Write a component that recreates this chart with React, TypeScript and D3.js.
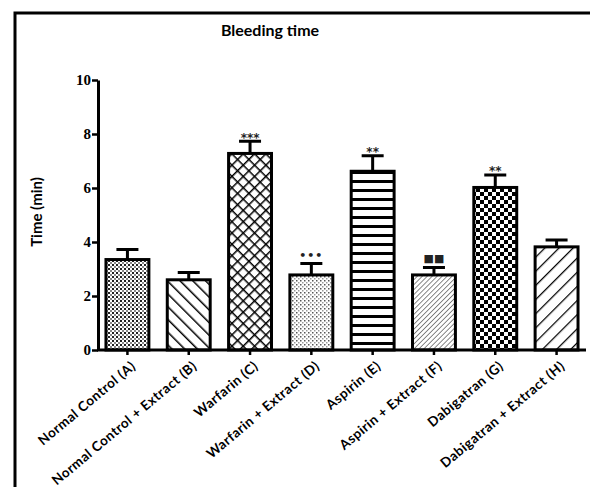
import * as d3 from "d3";
import React, {useEffect, useRef} from "react";

const categories = [
  "Normal Control (A)",
  "Normal Control + Extract (B)",
  "Warfarin (C)",
  "Warfarin + Extract (D)",
  "Aspirin (E)",
  "Aspirin + Extract (F)",
  "Dabigatran (G)",
  "Dabigatran + Extract (H)",
];
const means = [3.35, 2.6, 7.28, 2.78, 6.62, 2.78, 6.02, 3.82];
const errors = [0.37, 0.27, 0.45, 0.42, 0.57, 0.28, 0.46, 0.25];
const marks = ["", "", "***", "\u2022\u2022\u2022", "**", "\u25A0\u25A0", "**", ""];
const patterns = ["pA", "pB", "pC", "pD", "pE", "pF", "pG", "pH"];
const yTicks = [0, 2, 4, 6, 8, 10];

const W = 590;
const H = 487;

const App: React.FC = () => {
  const ref = useRef<SVGSVGElement | null>(null);

  useEffect(() => {
    document.body.style.margin = "0";
    const svg = d3.select(ref.current);
    svg.selectAll("*").remove();

    const x0 = 98, x1 = 586;
    const yTop = 80, yBot = 350;
    const sans = "Lato, 'Open Sans', sans-serif";

    const defs = svg.append("defs");
    // A: fine grey mesh
    const pA = defs.append("pattern").attr("id", "pA").attr("patternUnits", "userSpaceOnUse").attr("width", 4).attr("height", 4);
    pA.append("rect").attr("width", 4).attr("height", 4).attr("fill", "#fff");
    pA.append("rect").attr("width", 2).attr("height", 2).attr("fill", "#222");
    pA.append("rect").attr("x", 2).attr("y", 2).attr("width", 2).attr("height", 2).attr("fill", "#888");
    // B: backslash lines
    const pB = defs.append("pattern").attr("id", "pB").attr("patternUnits", "userSpaceOnUse").attr("width", 9).attr("height", 9)
      .attr("patternTransform", "rotate(-45)");
    pB.append("rect").attr("width", 9).attr("height", 9).attr("fill", "#fff");
    pB.append("line").attr("x1", 0).attr("y1", 0).attr("x2", 0).attr("y2", 9).attr("stroke", "#000").attr("stroke-width", 3);
    // C: crosshatch
    const pC = defs.append("pattern").attr("id", "pC").attr("patternUnits", "userSpaceOnUse").attr("width", 8).attr("height", 8)
      .attr("patternTransform", "rotate(45)");
    pC.append("rect").attr("width", 8).attr("height", 8).attr("fill", "#fff");
    pC.append("line").attr("x1", 0).attr("y1", 0).attr("x2", 0).attr("y2", 8).attr("stroke", "#000").attr("stroke-width", 3);
    pC.append("line").attr("x1", 0).attr("y1", 0).attr("x2", 8).attr("y2", 0).attr("stroke", "#000").attr("stroke-width", 3);
    // D: fine light dots
    const pD = defs.append("pattern").attr("id", "pD").attr("patternUnits", "userSpaceOnUse").attr("width", 4).attr("height", 4);
    pD.append("rect").attr("width", 4).attr("height", 4).attr("fill", "#fff");
    pD.append("rect").attr("width", 1.5).attr("height", 1.5).attr("fill", "#555");
    pD.append("rect").attr("x", 2).attr("y", 2).attr("width", 1.5).attr("height", 1.5).attr("fill", "#999");
    // E: horizontal lines
    const pE = defs.append("pattern").attr("id", "pE").attr("patternUnits", "userSpaceOnUse").attr("width", 9).attr("height", 9);
    pE.append("rect").attr("width", 9).attr("height", 9).attr("fill", "#fff");
    pE.append("line").attr("x1", 0).attr("y1", 1.5).attr("x2", 9).attr("y2", 1.5).attr("stroke", "#000").attr("stroke-width", 3);
    // F: fine forward slash
    const pF = defs.append("pattern").attr("id", "pF").attr("patternUnits", "userSpaceOnUse").attr("width", 3.5).attr("height", 3.5)
      .attr("patternTransform", "rotate(45)");
    pF.append("rect").attr("width", 3.5).attr("height", 3.5).attr("fill", "#fff");
    pF.append("line").attr("x1", 0).attr("y1", 0).attr("x2", 0).attr("y2", 3.5).attr("stroke", "#555").attr("stroke-width", 1.4);
    // G: checkerboard
    const pG = defs.append("pattern").attr("id", "pG").attr("patternUnits", "userSpaceOnUse").attr("width", 8).attr("height", 8);
    pG.append("rect").attr("width", 8).attr("height", 8).attr("fill", "#fff");
    pG.append("rect").attr("width", 4).attr("height", 4).attr("fill", "#000");
    pG.append("rect").attr("x", 4).attr("y", 4).attr("width", 4).attr("height", 4).attr("fill", "#000");
    // H: forward slash lines
    const pH = defs.append("pattern").attr("id", "pH").attr("patternUnits", "userSpaceOnUse").attr("width", 10).attr("height", 10)
      .attr("patternTransform", "rotate(45)");
    pH.append("rect").attr("width", 10).attr("height", 10).attr("fill", "#fff");
    pH.append("line").attr("x1", 0).attr("y1", 0).attr("x2", 0).attr("y2", 10).attr("stroke", "#000").attr("stroke-width", 2.5);

    // frame
    svg.append("rect").attr("x", 15).attr("y", 13).attr("width", 700).attr("height", 600)
      .attr("fill", "none").attr("stroke", "#000").attr("stroke-width", 3);

    svg.append("text").attr("x", 270).attr("y", 36).attr("text-anchor", "middle")
      .style("font-family", sans).style("font-weight", "bold").style("font-size", "16px")
      .text("Bleeding time");

    const xScale = d3.scaleBand<string>().domain(categories).range([x0, x1]).paddingInner(0.3).paddingOuter(0.13);
    const yScale = d3.scaleLinear().domain([0, 10]).range([yBot, yTop]);

    // bars
    const g = svg.append("g");
    g.selectAll(".bar").data(categories).enter().append("rect")
      .attr("x", (d) => xScale(d)!)
      .attr("y", (_, i) => yScale(means[i]))
      .attr("width", xScale.bandwidth())
      .attr("height", (_, i) => yScale(0) - yScale(means[i]))
      .attr("fill", (_, i) => `url(#${patterns[i]})`)
      .attr("stroke", "#000").attr("stroke-width", 3);

    // error bars
    const cx = (d: string) => xScale(d)! + xScale.bandwidth() / 2;
    g.selectAll(".err").data(categories).enter().append("path")
      .attr("d", (d, i) => {
        const c = cx(d), top = yScale(means[i] + errors[i]);
        return `M${c},${yScale(means[i])}V${top}M${c - 11},${top}H${c + 11}`;
      })
      .attr("fill", "none").attr("stroke", "#000").attr("stroke-width", 3);

    // significance marks
    g.selectAll(".mark").data(categories).enter().append("text")
      .attr("x", cx)
      .attr("y", (_, i) => yScale(means[i] + errors[i]) - (marks[i].startsWith("*") ? 2 : 5))
      .attr("text-anchor", "middle")
      .attr("dy", (_, i) => (marks[i].startsWith("*") ? "0.2em" : "0"))
      .style("font-family", "'DejaVu Sans', sans-serif")
      .style("font-size", (_, i) => (marks[i].startsWith("*") ? "12px" : "11px"))
      .style("font-weight", "bold")
      .style("letter-spacing", (_, i) => (marks[i].startsWith("\u2022") ? "1px" : "0"))
      .attr("fill", "#222")
      .text((_, i) => marks[i]);

    // y axis
    const yAxis = svg.append("g").attr("transform", `translate(${x0},0)`)
      .call(d3.axisLeft(yScale).tickValues(yTicks).tickSize(6).tickPadding(1).tickSizeOuter(0));
    yAxis.select(".domain").attr("stroke-width", 3);
    yAxis.selectAll(".tick line").attr("stroke-width", 2.5);
    yAxis.selectAll(".tick text")
      .style("font-family", "'Liberation Serif', 'Times New Roman', serif")
      .style("font-weight", "bold").style("font-size", "15px").attr("fill", "#000");

    // x axis
    const xAxis = svg.append("g").attr("transform", `translate(0,${yBot})`)
      .call(d3.axisBottom(xScale).tickSize(5).tickSizeOuter(0));
    xAxis.select(".domain").attr("stroke-width", 3).attr("d", `M${x0 - 1},0H${x1}`);
    xAxis.selectAll(".tick line").attr("stroke-width", 2.5);
    xAxis.selectAll(".tick text")
      .style("font-family", sans).style("font-weight", "bold").style("font-size", "13.5px")
      .style("letter-spacing", "0.5px")
      .attr("fill", "#000")
      .attr("text-anchor", "end")
      .attr("transform", "translate(6,14) rotate(-40)")
      .attr("dy", "0.35em").attr("y", 0).attr("x", 0);

    // y label
    svg.append("text").attr("transform", "translate(42,212) rotate(-90)").attr("text-anchor", "middle")
      .style("font-family", sans).style("font-weight", "bold").style("font-size", "15px")
      .text("Time (min)");

    return () => {
      svg.selectAll("*").remove();
    };
  }, []);

  return <svg ref={ref} width={W} height={H} style={{display: "block", background: "#fff"}} />;
};

export default App;
